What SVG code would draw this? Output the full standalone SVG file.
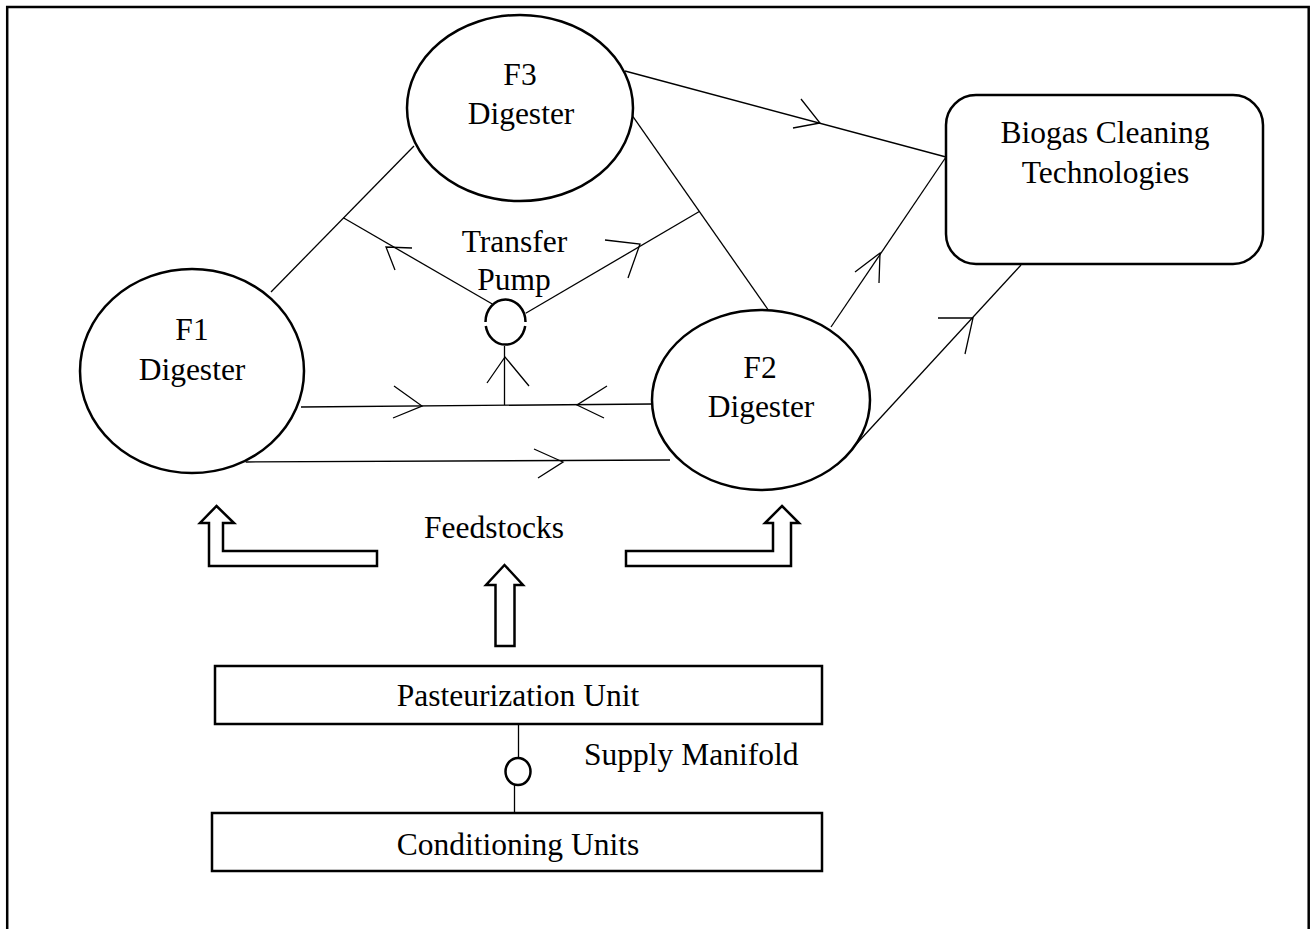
<svg xmlns="http://www.w3.org/2000/svg" width="1314" height="929" viewBox="0 0 1314 929">
  <style>
    .bg { fill: #ffffff; }
    .frame { fill: none; stroke: #000; stroke-width: 2.5; }
    .shape { fill: #ffffff; stroke: #000; stroke-width: 2.5; }
    .ring { fill: none; stroke: #000; stroke-width: 2.5; }
    .line { fill: none; stroke: #000; stroke-width: 1.3; }
    .head { fill: none; stroke: #000; stroke-width: 1.3; stroke-linejoin: miter; }
    .block { fill: #ffffff; stroke: #000; stroke-width: 2.5; stroke-linejoin: miter; }
    .label { font-family: "Liberation Serif", "Times New Roman", serif; font-size: 31.5px; fill: #000; text-anchor: middle; }
    .label-left { font-family: "Liberation Serif", "Times New Roman", serif; font-size: 31.5px; fill: #000; text-anchor: start; }
  </style>

  <rect class="bg" x="0" y="0" width="1314" height="929"/>

  <!-- outer frame, open at the bottom -->
  <path class="frame" d="M7.2,929 V7 H1308.7 V929"/>

  <!-- connectors -->
  <g id="connectors">
    <!-- F1 to F3 riser and pump branch -->
    <line class="line" x1="271" y1="292" x2="414" y2="146"/>
    <line class="line" x1="492.3" y1="304" x2="343.3" y2="217.8"/>
    <polyline class="head" points="412,248 386,247 395,270"/>

    <!-- F3 to F2 riser and pump branch -->
    <line class="line" x1="633" y1="116.7" x2="768.3" y2="310"/>
    <line class="line" x1="525.7" y1="313.3" x2="699.3" y2="211.5"/>
    <polyline class="head" points="605,240 640,244 628,278"/>

    <!-- F3 to biogas cleaning -->
    <line class="line" x1="625" y1="71" x2="946" y2="157"/>
    <polyline class="head" points="801,99 820,123 793,128"/>

    <!-- F2 to biogas cleaning -->
    <line class="line" x1="831" y1="327" x2="946" y2="157"/>
    <polyline class="head" points="855,272 880,253 879,283"/>
    <line class="line" x1="837" y1="465" x2="1021" y2="265"/>
    <polyline class="head" points="938,318 973,318 965,354"/>

    <!-- F1 / F2 header line feeding the pump -->
    <line class="line" x1="301" y1="407" x2="652" y2="404"/>
    <polyline class="head" points="394,386 422,406 393,418"/>
    <polyline class="head" points="607,386 577,405 604,418"/>
    <line class="line" x1="504.5" y1="405" x2="504.5" y2="346"/>
    <polyline class="head" points="487,383 505,357 529,386"/>

    <!-- F1 to F2 lower line -->
    <line class="line" x1="245.7" y1="462" x2="670" y2="460"/>
    <polyline class="head" points="534,449 563,462 538,478"/>

    <!-- supply manifold risers -->
    <line class="line" x1="518.5" y1="724" x2="518.5" y2="758"/>
    <line class="line" x1="514.5" y1="785" x2="514.5" y2="813"/>
  </g>

  <!-- digesters -->
  <g id="f3-digester">
    <ellipse class="shape" cx="520" cy="108" rx="113" ry="93"/>
    <text class="label" x="520" y="85">F3</text>
    <text class="label" x="521" y="124">Digester</text>
  </g>

  <g id="f1-digester">
    <ellipse class="shape" cx="192" cy="371" rx="112" ry="102"/>
    <text class="label" x="192" y="340">F1</text>
    <text class="label" x="192" y="380">Digester</text>
  </g>

  <g id="f2-digester">
    <ellipse class="shape" cx="761" cy="400" rx="109" ry="90"/>
    <text class="label" x="760" y="378">F2</text>
    <text class="label" x="761" y="417">Digester</text>
  </g>

  <!-- transfer pump -->
  <g id="transfer-pump">
    <path class="ring" d="M485.5,322 A20,22.5 0 0 1 525.5,322"/>
    <path class="ring" d="M485.8,326 A20,22.5 0 0 0 525.2,326"/>
    <text class="label" x="514.5" y="252">Transfer</text>
    <text class="label" x="514" y="290">Pump</text>
  </g>

  <!-- biogas cleaning -->
  <g id="biogas-cleaning">
    <rect class="shape" x="946" y="95" width="317" height="169" rx="30" ry="30"/>
    <text class="label" x="1105" y="143">Biogas Cleaning</text>
    <text class="label" x="1105.5" y="183">Technologies</text>
  </g>

  <!-- feedstock supply arrows -->
  <g id="feedstocks">
    <polygon class="block" points="216.5,506 234,523 223,523 223,551 377,551 377,566 209,566 209,523 200,523"/>
    <polygon class="block" points="782,506 799,523 791,523 791,566 626,566 626,551 773,551 773,523 765,523"/>
    <polygon class="block" points="504.5,565 523,585 514.5,585 514.5,646 495.5,646 495.5,585 486,585"/>
    <text class="label" x="494" y="538">Feedstocks</text>
  </g>

  <!-- pasteurization unit -->
  <g id="pasteurization-unit">
    <rect class="shape" x="215" y="666" width="607" height="58"/>
    <text class="label" x="518" y="706">Pasteurization Unit</text>
  </g>

  <!-- supply manifold valve -->
  <g id="supply-manifold">
    <ellipse class="ring" cx="518" cy="771.5" rx="12.5" ry="13.5"/>
    <text class="label-left" x="584" y="765">Supply Manifold</text>
  </g>

  <!-- conditioning units -->
  <g id="conditioning-units">
    <rect class="shape" x="212" y="813" width="610" height="58"/>
    <text class="label" x="518" y="855">Conditioning Units</text>
  </g>
</svg>
